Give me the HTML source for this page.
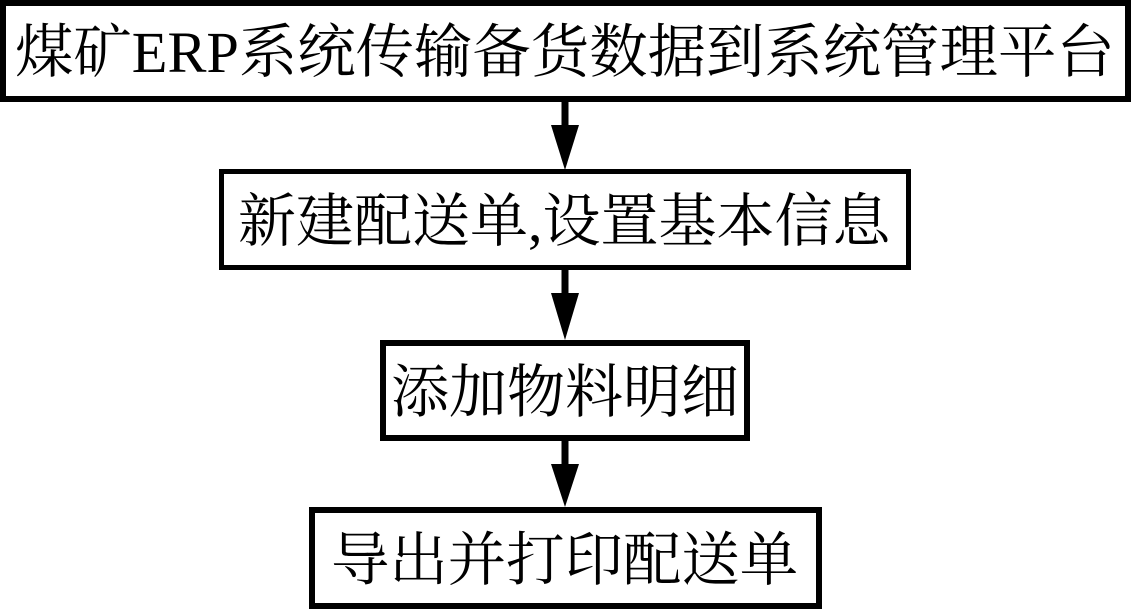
<!DOCTYPE html>
<html lang="zh">
<head>
<meta charset="utf-8">
<style>
html,body{margin:0;padding:0;background:#fff;width:1131px;height:609px;overflow:hidden}
svg{display:block}
text{font-family:"Liberation Serif","Noto Serif CJK SC",serif;font-size:58px;fill:#000}
</style>
</head>
<body>
<svg width="1131" height="609" viewBox="0 0 1131 609" xmlns="http://www.w3.org/2000/svg">
<rect width="1131" height="609" fill="#fff"/>
<g fill="#fff" stroke="#000" stroke-width="6">
<rect x="3" y="3" width="1125" height="96"/>
<rect x="221.5" y="171.5" width="687" height="96" stroke-width="5"/>
<rect x="383" y="343" width="364" height="95"/>
<rect x="312" y="510" width="507" height="96"/>
</g>
<g fill="#000">
<rect x="561.5" y="102" width="7" height="26"/>
<rect x="561.5" y="270" width="7" height="26"/>
<rect x="561.5" y="441" width="7" height="26"/>
<polygon points="551,125 579,125 565,170"/>
<polygon points="551,293 579,293 565,340"/>
<polygon points="551,464 579,464 565,507"/>
</g>
<text x="15" y="72" style="font-size:58.4px">煤矿ERP系统传输备货数据到系统管理平台</text>
<text x="238" y="241">新建配送单,设置基本信息</text>
<text x="391" y="412">添加物料明细</text>
<text x="331" y="580" style="font-size:58.4px">导出并打印配送单</text>
</svg>
</body>
</html>
